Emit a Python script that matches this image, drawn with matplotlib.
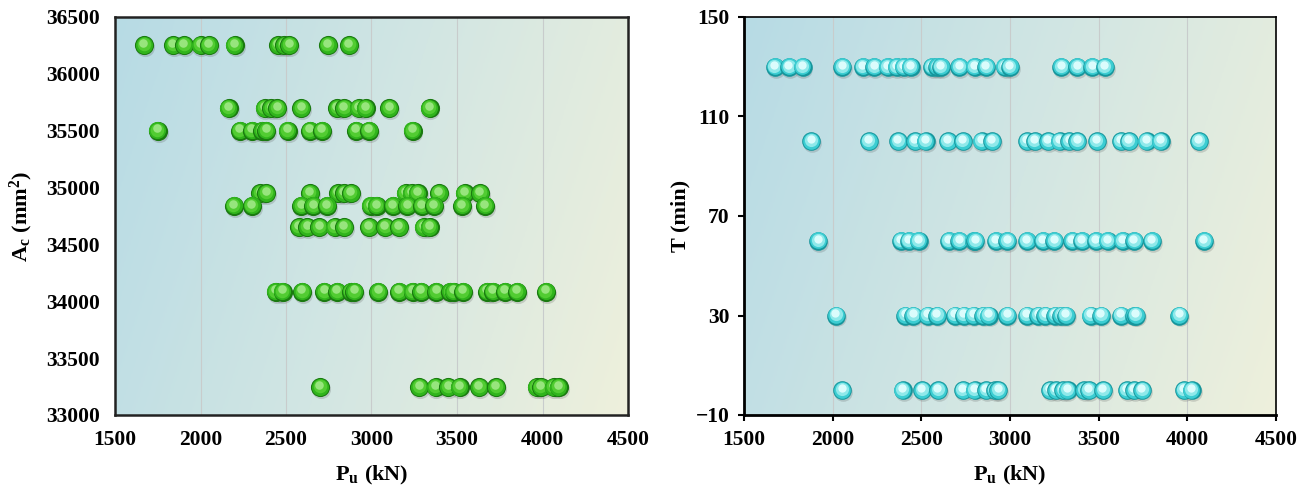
import numpy as np
import matplotlib
matplotlib.use("Agg")
import matplotlib.pyplot as plt
from matplotlib.transforms import ScaledTranslation
from matplotlib.colors import LinearSegmentedColormap

plt.rcParams['font.family'] = 'Liberation Serif'
plt.rcParams['font.weight'] = 'bold'
plt.rcParams['axes.labelweight'] = 'bold'
plt.rcParams['mathtext.fontset'] = 'custom'
plt.rcParams['mathtext.rm'] = 'Liberation Serif:bold'
plt.rcParams['mathtext.it'] = 'Liberation Serif:bold'
plt.rcParams['mathtext.bf'] = 'Liberation Serif:bold'

# ---- left panel: P_u (kN) grouped by A_c (mm2) ----
ac_levels = [36250, 35700, 35500, 34950, 34840, 34650, 34085, 33245]
pu_ac_36250 = [1670, 1840, 1905, 2000, 2050, 2200, 2455, 2490, 2520, 2745, 2870]
pu_ac_35700 = [2165, 2375, 2415, 2450, 2590, 2800, 2840, 2925, 2965, 3105, 3340]
pu_ac_35500 = [1750, 2230, 2300, 2360, 2385, 2510, 2640, 2710, 2910, 2985, 3240]
pu_ac_34950 = [2350, 2385, 2640, 2805, 2840, 2880, 3200, 3235, 3270, 3395, 3545, 3635]
pu_ac_34840 = [2195, 2300, 2590, 2660, 2740, 2995, 3030, 3125, 3210, 3295, 3365, 3530, 3665]
pu_ac_34650 = [2575, 2625, 2695, 2785, 2840, 2985, 3080, 3160, 3305, 3340]
pu_ac_34085 = [2440, 2480, 2595, 2725, 2800, 2880, 2900, 3040, 3160, 3240, 3290,
               3380, 3460, 3480, 3535, 3675, 3710, 3780, 3850, 4020]
pu_ac_33245 = [2700, 3280, 3375, 3450, 3515, 3630, 3730, 3965, 3990, 4065, 4095]

# ---- right panel: P_u (kN) grouped by T (min) ----
t_levels = [130, 100, 60, 30, 0]
pu_t_130 = [1675, 1755, 1830, 2055, 2170, 2235, 2310, 2360, 2400, 2440, 2560, 2590,
            2610, 2715, 2800, 2865, 2970, 3000, 3290, 3380, 3465, 3535]
pu_t_100 = [1880, 2205, 2370, 2465, 2525, 2650, 2735, 2840, 2900, 3095, 3140, 3215,
            3280, 3335, 3380, 3490, 3625, 3670, 3770, 3850, 4065]
pu_t_60 = [1920, 2385, 2430, 2485, 2655, 2715, 2795, 2805, 2920, 2985, 3095, 3185,
           3250, 3350, 3405, 3485, 3550, 3635, 3700, 3800, 4095]
pu_t_30 = [2020, 2410, 2455, 2535, 2590, 2690, 2740, 2795, 2850, 2880, 2985, 3095,
           3160, 3200, 3255, 3290, 3315, 3455, 3515, 3625, 3700, 3710, 3955]
pu_t_0 = [2055, 2395, 2505, 2595, 2735, 2800, 2865, 2915, 2935, 3225, 3260, 3300,
          3325, 3420, 3445, 3525, 3660, 3700, 3745, 3980, 4025]

left_groups = [pu_ac_36250, pu_ac_35700, pu_ac_35500, pu_ac_34950,
               pu_ac_34840, pu_ac_34650, pu_ac_34085, pu_ac_33245]
right_groups = [pu_t_130, pu_t_100, pu_t_60, pu_t_30, pu_t_0]

x_left = np.concatenate([np.array(g, float) for g in left_groups])
y_left = np.concatenate([np.full(len(g), lv, float) for g, lv in zip(left_groups, ac_levels)])
x_right = np.concatenate([np.array(g, float) for g in right_groups])
y_right = np.concatenate([np.full(len(g), lv, float) for g, lv in zip(right_groups, t_levels)])

bg_cmap = LinearSegmentedColormap.from_list('bg', ['#b7dbe5', '#d2e6e3', '#eef0dc'])


def gradient_bg(ax, xlim, ylim):
    u = np.linspace(0, 1, 300)
    v = np.linspace(1, 0, 150)
    U, V = np.meshgrid(u, v)
    T = 0.8 * U + 0.2 * (1 - V)
    ax.imshow(T, cmap=bg_cmap, extent=[xlim[0], xlim[1], ylim[0], ylim[1]],
              aspect='auto', zorder=0, interpolation='bilinear')


def balls(ax, fig, x, y, colors, size):
    # fake 3D spheres: soft shadow, dark rim, body, lighter core, highlight
    layers = [
        (colors[0], 1.00, (0, 0), 1),
        (colors[1], 0.80, (-0.2, 0.3), 1),
        (colors[2], 0.50, (-0.4, 0.8), 1),
        (colors[3], 0.20, (-0.6, 1.6), 0.9),
    ]
    shadow_tr = ax.transData + ScaledTranslation(0.6 / 72, -1.4 / 72, fig.dpi_scale_trans)
    ax.scatter(x, y, s=size, color='#4a4a4a', alpha=0.2, linewidths=0,
               transform=shadow_tr, zorder=2)
    # each ball drawn whole, left to right, so neighbours overlap like spheres
    for k, (xi, yi) in enumerate(zip(x, y)):
        for i, (c, f, (dx, dy), a) in enumerate(layers):
            tr = ax.transData + ScaledTranslation(dx / 72, dy / 72, fig.dpi_scale_trans)
            ax.scatter([xi], [yi], s=size * f, color=c, alpha=a, linewidths=0,
                       transform=tr, zorder=3 + k * 0.01 + i * 0.001)


fig = plt.figure(figsize=(13.1, 4.91), dpi=100)
fig.patch.set_facecolor('white')

ax1 = fig.add_axes([115 / 1310, 1 - 415 / 491, 513 / 1310, 398 / 491])
ax2 = fig.add_axes([744 / 1310, 1 - 415 / 491, 532 / 1310, 398 / 491])

# left
gradient_bg(ax1, (1500, 4500), (33000, 36500))
ax1.set_xlim(1500, 4500)
ax1.set_ylim(33000, 36500)
ax1.set_xticks(range(1500, 4501, 500))
ax1.set_yticks(range(33000, 36501, 500))
for xv in range(2000, 4001, 500):
    ax1.axvline(xv, color='#c8cccc', lw=0.8, zorder=1)
balls(ax1, fig, x_left, y_left, ['#1a7a10', '#30b41c', '#52cc32', '#9fe886'], 190)
ax1.tick_params(length=0, labelsize=15.5, pad=11)
for sp in ax1.spines.values():
    sp.set_linewidth(1.8)
    sp.set_color('#222222')
ax1.set_xlabel(r'$\mathrm{P_u\ (kN)}$', fontsize=16, labelpad=10)
ax1.set_ylabel(r'$\mathrm{A_c\ (mm^2)}$', fontsize=16, labelpad=8)

# right
gradient_bg(ax2, (1500, 4500), (-10, 150))
ax2.set_xlim(1500, 4500)
ax2.set_ylim(-10, 150)
ax2.set_xticks(range(1500, 4501, 500))
ax2.set_yticks([-10, 30, 70, 110, 150])
for xv in range(2000, 4001, 500):
    ax2.axvline(xv, color='#c8cccc', lw=0.8, zorder=1)
balls(ax2, fig, x_right, y_right, ['#15959b', '#3ccdd2', '#8fe9ea', '#e4ffff'], 180)
ax2.tick_params(direction='out', length=4.5, width=1.5, labelsize=15.5, pad=6)
for sp in ax2.spines.values():
    sp.set_linewidth(1.2)
    sp.set_color('black')
ax2.spines['left'].set_linewidth(2)
ax2.spines['bottom'].set_linewidth(2)
ax2.set_xlabel(r'$\mathrm{P_u\ (kN)}$', fontsize=16, labelpad=10)
ax2.set_ylabel('T (min)', fontsize=16, labelpad=4)

fig.savefig('out.png', dpi=100, facecolor='white')
